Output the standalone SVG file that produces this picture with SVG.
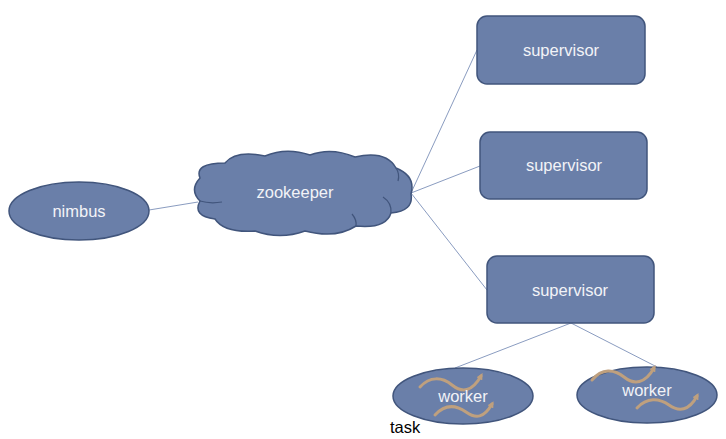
<svg xmlns="http://www.w3.org/2000/svg" width="726" height="439" viewBox="0 0 726 439">
<defs>
<style>
.shape{fill:#6a7fa9;stroke:#41557c;stroke-width:1.5}
.lbl{font-family:"Liberation Sans",Arial,sans-serif;font-size:16.5px;fill:#f2f3f7;text-anchor:middle}
.conn{stroke:#8a9cc0;stroke-width:1;fill:none}
.wave{stroke:#bfa07e;stroke-width:3;fill:none;stroke-linecap:round}
.inner{fill:none;stroke:#41557c;stroke-width:1.2}
</style>
<marker id="ah" viewBox="0 0 6 6" refX="3" refY="3" markerWidth="2.2" markerHeight="2.2" orient="auto">
<path d="M0,0 L6,3 L0,6 Z" fill="#bfa07e"/>
</marker>
</defs>
<rect width="726" height="439" fill="#ffffff"/>
<g id="connectors">
<line class="conn" x1="149" y1="210" x2="198" y2="202"/>
<line class="conn" x1="411" y1="193" x2="477" y2="50"/>
<line class="conn" x1="411" y1="193" x2="480" y2="166"/>
<line class="conn" x1="411" y1="193" x2="487" y2="290"/>
<line class="conn" x1="571" y1="323" x2="455" y2="368"/>
<line class="conn" x1="571" y1="323" x2="657" y2="367"/>
</g>
<g id="nimbus">
<ellipse class="shape" cx="79" cy="211" rx="70" ry="29"/>
<text class="lbl" x="79" y="217">nimbus</text>
</g>
<g id="zookeeper">
<path class="shape" d="M200,178 Q194,163 225,163 Q236,150 265,156 Q286,147 310,155 Q331,147 355,157 Q386,150 396,168 Q416,176 411,194 Q414,211 391,213 Q386,229 356,226 Q336,239 305,231 Q280,240 255,231 Q224,233 215,219 Q192,216 200,201 Q189,190 200,178 Z"/>
<path class="inner" d="M200,201 Q210,204 222,202"/>
<path class="inner" d="M391,213 Q392,203 383,197"/>
<path class="inner" d="M356,226 Q357,220 352,214"/>
<path class="inner" d="M396,168 Q400,174 398,181"/>
<text class="lbl" x="295" y="198">zookeeper</text>
</g>
<g id="supervisor1">
<rect class="shape" x="477" y="16" width="168" height="68" rx="10"/>
<text class="lbl" x="561" y="56">supervisor</text>
</g>
<g id="supervisor2">
<rect class="shape" x="480" y="132" width="167" height="67" rx="10"/>
<text class="lbl" x="564" y="171">supervisor</text>
</g>
<g id="supervisor3">
<rect class="shape" x="487" y="256" width="167" height="67" rx="10"/>
<text class="lbl" x="570" y="296">supervisor</text>
</g>
<g id="worker1">
<ellipse class="shape" cx="463" cy="396" rx="70" ry="28"/>
<path class="wave" marker-end="url(#ah)" d="M420,387 C430,376 442,377 452,385 S472,392 481,376"/>
<path class="wave" marker-end="url(#ah)" d="M435,415 C445,404 456,405 466,412 S484,418 492,404"/>
<text class="lbl" x="463" y="402">worker</text>
</g>
<g id="worker2">
<ellipse class="shape" cx="647" cy="395" rx="70" ry="28"/>
<path class="wave" marker-end="url(#ah)" d="M592,380 C602,368 614,369 624,377 S645,384 654,368"/>
<path class="wave" marker-end="url(#ah)" d="M637,408 C647,397 659,398 669,405 S689,411 697,396"/>
<text class="lbl" x="647" y="396">worker</text>
</g>
<text x="390" y="433" font-family="'Liberation Sans',Arial,sans-serif" font-size="16.5" fill="#000000">task</text>
</svg>
